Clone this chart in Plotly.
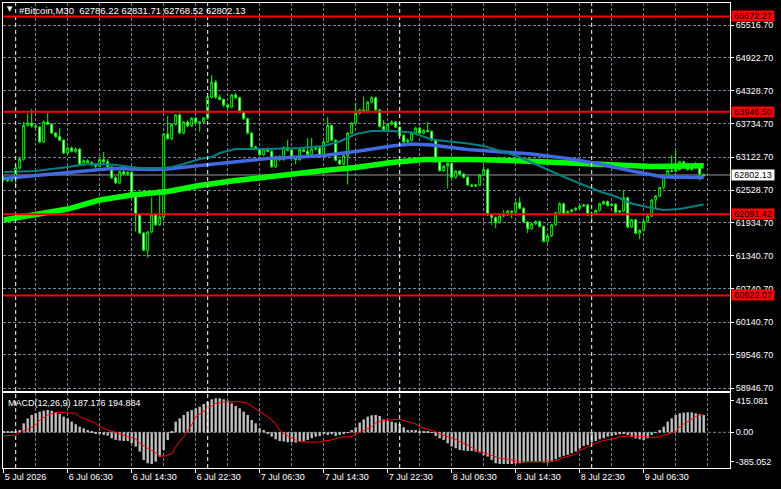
import pandas as pd
import plotly.graph_objects as go
from plotly.subplots import make_subplots

# ---------------- data ----------------
times = pd.date_range("2026-07-05 22:30", periods=176, freq="30min")

opens = [62760,62720,62700,62760,62930,63090,63700,63740,63690,63670,
         63400,63760,63720,63560,63500,63430,63200,63290,63230,63270,
         62990,63060,63030,62990,62960,63080,63040,62950,62750,62660,
         62860,62820,62850,62480,62080,61750,61440,61770,62080,61900,
         62040,63545,63460,63720,63890,63560,63760,63690,63830,63750,
         63760,63830,64210,64480,64210,64170,64070,64030,64250,64200,
         63940,63820,63560,63310,63270,63170,63270,63230,62950,63130,
         63080,63300,63250,63100,63080,63260,63230,63170,63270,63290,
         63140,63400,63700,63430,63070,63000,63150,63560,63740,63920,
         63980,63960,64120,64200,63980,63680,63620,63720,63760,63670,
         63520,63400,63430,63560,63650,63560,63610,63590,63430,63040,
         62880,62960,63010,62760,62870,62820,62760,62620,62600,62620,
         62800,62900,62080,62030,61940,62060,62080,62150,62130,62300,
         62200,61950,61830,61920,61960,61870,61600,61700,61900,62120,
         62280,62090,62140,62170,62200,62240,62260,62080,62100,62160,
         62280,62320,62250,62270,62130,62150,62390,61860,61990,61750,
         61800,61960,62060,62350,62420,62570,62770,62880,62870,62900,
         63040,63000,62900,62940,62950,62786.22]
highs = [62790,62760,62790,62960,63110,63760,63920,63995,63720,63690,
         63790,63920,63740,63580,63650,63450,63310,63320,63300,63290,
         63080,63090,63050,63000,63100,63220,63090,62970,62780,62880,
         62880,62870,62870,62500,62100,61770,61790,62400,62100,62550,
         63550,63870,63740,63900,63920,63780,63800,63850,63850,63780,
         63850,64230,64610,64520,64260,64190,64090,64270,64290,64220,
         63960,63840,63580,63330,63290,63290,63300,63250,63150,63160,
         63320,63440,63270,63120,63280,63290,63470,63470,63310,63310,
         63420,63850,63720,63450,63090,63170,63580,63760,64100,64000,
         64220,64140,64230,64220,64000,63800,63740,63790,63780,63690,
         63540,63460,63580,63670,63670,63630,63760,63610,63450,63060,
         62980,63030,63030,62890,62890,62840,62780,62640,62640,62820,
         62960,62920,62100,62050,62080,62170,62170,62150,62320,62400,
         62220,61970,61940,61980,61980,61890,61720,61920,62140,62310,
         62300,62160,62190,62220,62260,62280,62280,62120,62180,62300,
         62340,62340,62290,62290,62170,62530,62410,62010,62010,61820,
         61980,62080,62370,62440,62590,62790,62900,63160,63250,63060,
         63060,63020,62960,63040,62970,62831.71]
lows = [62690,62670,62680,62586,62900,63060,63680,63660,63640,63380,
        63380,63700,63540,63470,63410,63180,63170,63210,63200,62970,
        62960,63010,62960,62900,62940,63010,62930,62730,62640,62640,
        62800,62790,62460,61780,61730,61420,61310,61750,61880,61880,
        62000,63440,63430,63700,63540,63540,63670,63670,63730,63580,
        63740,63800,64190,64180,64150,64030,63990,64010,64180,63920,
        63800,63540,63290,63250,63150,63150,63210,62930,62930,63060,
        63060,63230,63080,63000,63060,63210,63150,63150,63250,63120,
        63120,63380,63410,63050,62980,62980,62630,63540,63720,63900,
        63940,63940,64100,63960,63660,63600,63600,63700,63650,63500,
        63380,63380,63410,63540,63540,63540,63570,63410,63020,62860,
        62860,62560,62740,62740,62800,62740,62600,62580,62580,62600,
        62780,62060,61900,61840,61920,62040,62060,62020,62110,62180,
        61930,61750,61810,61900,61850,61580,61580,61680,61880,62100,
        62070,62070,62120,62150,62180,62220,62060,61950,62080,62140,
        62260,62230,62230,62110,62110,62130,61840,61840,61730,61640,
        61780,61940,62040,62200,62400,62550,62750,62850,62850,62880,
        62980,62880,62880,62920,62700,62768.52]
closes = [62720,62700,62760,62930,63090,63700,63740,63690,63670,63400,
          63760,63720,63560,63500,63430,63200,63290,63230,63270,62990,
          63060,63030,62990,62960,63080,63040,62950,62750,62660,62860,
          62820,62850,62480,62080,61750,61440,61770,62080,61900,62040,
          63545,63460,63720,63890,63560,63760,63690,63830,63750,63760,
          63830,64210,64480,64210,64170,64070,64030,64250,64200,63940,
          63820,63560,63310,63270,63170,63270,63230,62950,63130,63080,
          63300,63250,63100,63080,63260,63230,63170,63270,63290,63140,
          63400,63700,63430,63070,63000,63150,63560,63740,63920,63980,
          63960,64120,64200,63980,63680,63620,63720,63760,63670,63520,
          63400,63430,63560,63650,63560,63610,63590,63430,63040,62880,
          62960,63010,62760,62870,62820,62760,62620,62600,62620,62800,
          62900,62080,62030,61940,62060,62080,62150,62130,62300,62200,
          61950,61830,61920,61960,61870,61600,61700,61900,62120,62280,
          62090,62140,62170,62200,62240,62260,62080,62100,62160,62280,
          62320,62250,62270,62130,62150,62390,61860,61990,61750,61800,
          61960,62060,62350,62420,62570,62770,62880,62870,62900,63040,
          63000,62900,62940,62950,62820,62802.13]

ma_lime_idx = [0,8,16,24,32,41,49,58,66,74,80,88,97,105,118,130,141,149,162,175]
ma_lime_val = [61987,62078,62186,62349,62440,62503,62612,62702,62774,62829,
               62883,62937,63028,63082,63082,63055,63028,63001,62955,62970]
ma_blue_idx = [0,8,16,27,37,41,49,58,66,74,80,88,97,102,107,116,124,132,141,149,157,162,165,175]
ma_blue_val = [62738,62792,62856,62919,62901,62910,62974,63046,63100,63127,63155,63227,
               63326,63363,63345,63263,63218,63182,63100,63001,62874,62811,62765,62756]
ma_teal_idx = [0,8,16,20,24,27,34,40,42,45,49,52,54,58,66,74,80,84,88,92,97,102,107,
               116,120,124,128,132,137,141,145,149,153,157,162,165,169,173,175]
ma_teal_val = [62856,62874,62947,62992,63001,62990,62928,62928,62947,63001,63091,63127,
               63200,63272,63272,63290,63326,63408,63544,63598,63598,63571,63444,63372,
               63326,63236,63155,63028,62865,62738,62620,62503,62412,62286,62204,62168,
               62186,62241,62268]

macd_hist = [5,8,5,10,
             30,118,183,227,249,271,284,293,284,262,
             240,205,183,140,105,74,52,30,8,-13,
             -13,-35,-44,-79,-100,-109,-114,-114,-144,-188,
             -253,-363,-407,-416,-385,-319,-232,-100,8,140,
             183,227,271,293,315,336,372,402,433,446,
             446,433,415,380,345,315,271,227,161,118,
             52,30,-13,-57,-92,-114,-122,-131,-131,-135,
             -122,-114,-100,-79,-57,-48,-22,-35,-26,-48,
             -35,-13,-4,30,65,127,170,205,223,227,
             214,170,148,140,127,109,65,30,30,30,
             17,8,8,-4,-48,-79,-100,-144,-188,-210,
             -232,-240,-245,-245,-253,-267,-297,-319,-363,-407,
             -416,-416,-416,-416,-407,-407,-398,-385,-385,-385,
             -385,-398,-398,-385,-354,-328,-310,-297,-275,-253,
             -210,-179,-166,-135,-114,-92,-79,-57,-48,-35,
             -26,-22,-35,-57,-79,-92,-100,-79,-35,-4,
             30,74,140,183,227,249,258,262,262,249,
             240,227]
signal_idx = [0,3,4,6,8,9,11,13,14,16,18,19,21,23,24,26,28,29,31,33,34,36,38,39,40,42,43,45,
              47,48,50,52,53,55,57,59,61,63,64,66,68,69,71,73,74,77,79,82,84,87,88,90,92,93,
              95,98,99,101,103,104,106,108,109,111,113,114,116,118,119,121,123,124,126,128,
              129,133,136,138,139,141,143,144,146,148,150,153,154,157,159,163,164,166,168,
              169,171,173,174,175]
signal_val = [-48,-35,-4,39,96,161,227,258,262,258,249,205,161,118,74,30,0,-22,-57,-87,-144,
              -210,-267,-310,-315,-284,-188,-57,96,205,271,336,380,398,402,402,380,315,271,
              205,118,22,-48,-100,-122,-131,-126,-100,-66,-57,-22,22,74,127,153,170,170,140,
              109,74,39,8,-22,-57,-92,-122,-166,-232,-253,-284,-319,-341,-354,-372,-385,-390,
              -385,-372,-350,-319,-284,-240,-188,-144,-109,-79,-57,-48,-57,-66,-57,-26,8,74,
              140,205,227,227]

levels = [65672.27, 63946.50, 62091.42, 60622.07]
last_price = 62802.13
price_ticks = [65516.70, 64922.70, 64328.70, 63734.70, 63122.70, 62528.70,
               61934.70, 61340.70, 60740.70, 60140.70, 59546.70, 58946.70]
macd_ticks = [415.081, 0.0, -385.052]
macd_tick_text = ["415.081", "0.00", "-385.052"]
title_text = "#Bitcoin,M30  62786.22 62831.71 62768.52 62802.13"
macd_text = "MACD(12,26,9) 187.176 194.884"

# ---------------- derived axis info ----------------
idx = list(range(len(times)))
label_idx = [i for i in idx if i % 16 == 0]
label_txt = [("%d %s %d" % (t.day, t.strftime("%b"), t.year)) if k == 0
             else ("%d %s" % (t.day, t.strftime("%b %H:%M")))
             for k, t in enumerate(times[label_idx])]
grid_idx = list(range(0, 184, 8))
day_idx = [i for i, t in enumerate(times) if t.hour == 0 and t.minute == 0]

GRID = "#7a8494"
FONT = "Liberation Sans"

fig = make_subplots(rows=2, cols=1, shared_xaxes=True)

fig.add_trace(go.Candlestick(
    x=idx, open=opens, high=highs, low=lows, close=closes,
    increasing=dict(line=dict(color="#00FF00", width=1), fillcolor="black"),
    decreasing=dict(line=dict(color="#00FF00", width=1), fillcolor="white"),
    whiskerwidth=0, hoverinfo="skip"), row=1, col=1)

fig.add_trace(go.Scatter(x=ma_lime_idx, y=ma_lime_val, mode="lines",
                         line=dict(color="#00FF00", width=5.5)), row=1, col=1)
fig.add_trace(go.Scatter(x=ma_blue_idx, y=ma_blue_val, mode="lines",
                         line=dict(color="#4169E1", width=3.5)), row=1, col=1)
fig.add_trace(go.Scatter(x=ma_teal_idx, y=ma_teal_val, mode="lines",
                         line=dict(color="#008080", width=2)), row=1, col=1)

fig.add_trace(go.Bar(x=idx, y=macd_hist, width=0.6, marker=dict(color="#C0C0C0", line=dict(width=0))),
              row=2, col=1)
fig.add_trace(go.Scatter(x=signal_idx, y=signal_val, mode="lines",
                         line=dict(color="#FF0000", width=1)), row=2, col=1)

xr = [-0.175, 181.575]
axis_common = dict(showline=True, mirror=True, linecolor="white", linewidth=1, zeroline=False)

fig.update_layout(
    width=781, height=489, margin=dict(l=3, r=51, t=3, b=21),
    paper_bgcolor="black", plot_bgcolor="black", showlegend=False,
    font=dict(family=FONT, size=9, color="white"),
    xaxis=dict(range=xr, showticklabels=False, showgrid=False, rangeslider=dict(visible=False),
               minor=dict(tickvals=grid_idx, showgrid=True, gridcolor=GRID, griddash="3px,2px", gridwidth=1),
               **axis_common),
    xaxis2=dict(range=xr, showgrid=False, tickvals=label_idx, ticktext=label_txt,
                ticks="outside", ticklen=4, tickcolor="white", ticklabelposition="outside right",
                tickfont=dict(size=9, color="white", family=FONT),
                minor=dict(tickvals=grid_idx, showgrid=True, gridcolor=GRID, griddash="3px,2px", gridwidth=1),
                **axis_common),
    yaxis=dict(domain=[0.1656, 1], range=[58892.5, 65914.9], side="right",
               tickvals=price_ticks, ticktext=["%.2f" % v for v in price_ticks],
               ticks="outside", ticklen=3, tickcolor="white",
               showgrid=True, gridcolor=GRID, griddash="3px,2px", gridwidth=1,
               tickfont=dict(size=9, color="white", family=FONT), **axis_common),
    yaxis2=dict(domain=[0, 0.1613], range=[-469, 516], side="right",
                tickvals=macd_ticks, ticktext=macd_tick_text,
                ticks="outside", ticklen=3, tickcolor="white", showgrid=False,
                tickfont=dict(size=9, color="white", family=FONT), **axis_common),
)

shapes = []
for d in day_idx:
    shapes.append(dict(type="line", xref="x", yref="y domain", x0=d, x1=d, y0=0, y1=1,
                       line=dict(color="white", width=1, dash="4px,3px"), layer="above"))
    shapes.append(dict(type="line", xref="x2", yref="y2 domain", x0=d, x1=d, y0=0, y1=1,
                       line=dict(color="white", width=1, dash="4px,3px"), layer="above"))
shapes.append(dict(type="line", xref="x2 domain", yref="y2", x0=0, x1=1, y0=0, y1=0,
                   line=dict(color=GRID, width=1, dash="3px,2px"), layer="below"))
shapes.append(dict(type="line", xref="x domain", yref="y", x0=0, x1=1, y0=last_price, y1=last_price,
                   line=dict(color="#9a9a9a", width=1), layer="below"))
for lv in levels:
    shapes.append(dict(type="line", xref="x domain", yref="y", x0=0, x1=1, y0=lv, y1=lv,
                       line=dict(color="#FF0000", width=2), layer="above"))
fig.update_layout(shapes=shapes)

ann = []
for lv in levels:
    ann.append(dict(xref="paper", yref="y", x=1, y=lv, xanchor="left", yanchor="middle",
                    text="%.2f" % lv, showarrow=False, bgcolor="#FF0000", xshift=1,
                    font=dict(color="black", size=9, family=FONT), width=42, height=10,
                    align="center", borderpad=0))
ann.append(dict(xref="paper", yref="y", x=1, y=last_price, xanchor="left", yanchor="middle",
                text="%.2f" % last_price, showarrow=False, bgcolor="white", xshift=1,
                font=dict(color="black", size=9, family=FONT), width=42, height=10,
                align="center", borderpad=0))
ann.append(dict(xref="paper", yref="paper", x=0, y=1, xanchor="left", yanchor="middle",
                text="▼", showarrow=False, xshift=2, yshift=-6,
                font=dict(color="white", size=7, family="DejaVu Sans")))
ann.append(dict(xref="paper", yref="paper", x=0, y=1, xanchor="left", yanchor="middle",
                text=title_text, showarrow=False, xshift=14, yshift=-7,
                font=dict(color="white", size=9.5, family=FONT)))
ann.append(dict(xref="paper", yref="paper", x=0, y=0.1613, xanchor="left", yanchor="middle",
                text=macd_text, showarrow=False, xshift=3, yshift=-10,
                font=dict(color="white", size=9, family=FONT)))
fig.update_layout(annotations=ann)

fig.write_html("out.html")
